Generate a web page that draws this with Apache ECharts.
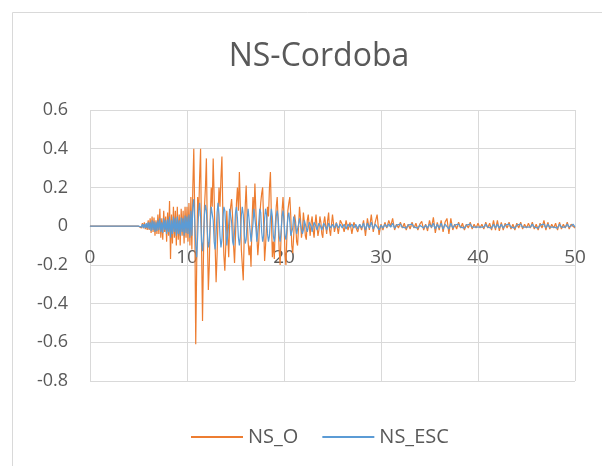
<!DOCTYPE html>
<html>
<head>
<meta charset="utf-8">
<script src="https://cdn.jsdelivr.net/npm/echarts@6/dist/echarts.min.js"></script>
<style>html,body{margin:0;padding:0;background:#fff}#c{width:602px;height:466px}</style>
</head>
<body>
<div id="c"></div>
<script>
// Title and series names
const chartTitle = "NS-Cordoba";
const seriesNames = ["NS_O", "NS_ESC"];
// x ticks / y ticks
const xTicks = [0, 10, 20, 30, 40, 50];
const yTicks = [-0.8, -0.6, -0.4, -0.2, 0, 0.2, 0.4, 0.6];

// Sampling of the read-off values
const startA = 5.0, stepA = 0.1;   // 5.0 .. 24.9 s
const startB = 25.0, stepB = 0.2;  // 25.0 .. 50.0 s

// NS_O (orange) 5.0 - 24.9 s
const nsO_A = [
  0,0,0.005,-0.01,0.015,-0.01,0.02,-0.015,0.01,-0.02,
  0.03,-0.02,0.04,-0.035,0.05,-0.03,0.045,-0.05,0.03,-0.04,
  0.06,-0.04,0.09,-0.06,0.04,-0.07,0.08,-0.03,0.05,-0.08,
  0.07,-0.05,0.13,-0.17,0.06,-0.09,0.1,-0.06,0.08,-0.1,
  0.1,-0.07,0.06,-0.1,0.09,-0.05,0.08,-0.09,0.1,-0.06,
  0.1,-0.08,0.12,-0.1,0.15,-0.12,0.2,0.4,0.05,-0.61,
  -0.2,0.15,0.05,0.25,0.4,-0.1,-0.49,-0.15,0.1,0.2,
  0.35,-0.05,-0.33,-0.2,0.05,0.2,0.1,0.35,0.15,-0.1,
  -0.29,-0.15,0.05,0.2,0.1,0.25,0.36,0.05,-0.15,-0.23,
  -0.1,0.08,-0.05,-0.16,0.02,0.1,0.14,0.05,-0.1,-0.19,
  -0.05,0.12,0.2,0.08,0.28,0.1,-0.12,-0.2,-0.28,-0.05,
  0.1,0.21,0.05,-0.08,-0.15,-0.1,-0.21,0.02,0.15,0.05,
  0.22,0.08,-0.05,-0.15,-0.08,0.05,0.12,0.17,0.2,0.02,
  -0.18,-0.1,0.0,0.1,0.05,0.2,0.28,0.05,-0.16,-0.08,
  -0.17,0.0,0.1,0.15,0.02,-0.12,-0.2,-0.05,0.08,0.15,
  0.05,-0.15,-0.2,-0.05,0.08,0.12,0.15,0.05,-0.1,-0.14,
  -0.05,0.06,0.02,-0.08,-0.1,0.0,0.1,0.04,-0.06,-0.02,
  0.07,0.02,-0.05,-0.07,0.03,0.06,0.0,-0.05,0.02,0.05,
  -0.02,-0.06,0.01,0.06,0.0,-0.05,-0.02,0.05,0.02,-0.04,
  -0.06,0.02,0.05,0.0,-0.04,0.03,0.07,-0.02,-0.05,0.01
];
// NS_O (orange) 25.0 - 50.0 s
const nsO_B = [
  0.06,-0.03,0.02,-0.04,0.03,
  0.01,-0.03,0.03,-0.02,0.02,
  -0.04,0.02,0.03,-0.03,0.01,
  -0.02,0.03,-0.05,0.04,-0.02,
  0.06,-0.03,0.02,0.06,-0.045,
  0.01,-0.02,0.02,-0.01,0.03,
  0.0,0.04,-0.02,0.01,-0.01,
  0.02,-0.01,0.015,-0.02,0.01,
  -0.015,0.02,-0.01,0.015,-0.02,
  0.01,0.025,-0.02,0.01,-0.025,
  0.03,-0.01,0.045,-0.035,0.02,
  -0.02,0.03,-0.03,0.02,0.04,
  -0.04,0.04,-0.02,0.01,-0.015,
  0.02,-0.01,0.015,-0.02,0.01,
  -0.01,0.02,-0.015,0.01,-0.01,
  0.015,-0.01,0.01,-0.015,0.02,
  -0.01,0.015,-0.02,0.03,-0.02,
  0.03,-0.025,0.02,-0.02,0.015,
  -0.01,0.02,-0.015,0.01,-0.02,
  0.015,-0.01,0.02,-0.015,0.01,
  -0.01,0.015,-0.01,0.02,-0.015,
  0.01,-0.02,0.015,-0.01,0.03,
  -0.02,0.02,-0.015,0.01,-0.01,
  0.015,-0.02,0.02,-0.015,0.01,
  -0.01,0.02,-0.015,0.01,0.02,
  -0.01
];
// NS_ESC (blue) 5.0 - 24.9 s
const nsE_A = [
  0,0,0.005,-0.005,0.01,-0.01,0.01,-0.01,0.015,-0.01,
  0.02,-0.015,0.02,-0.025,0.03,-0.02,0.025,-0.03,0.02,-0.025,
  0.03,-0.02,0.04,-0.03,0.02,-0.035,0.04,-0.02,0.03,-0.04,
  0.035,-0.03,0.05,-0.06,0.03,-0.04,0.05,-0.03,0.04,-0.05,
  0.05,-0.04,0.03,-0.05,0.045,-0.03,0.04,-0.05,0.055,-0.035,
  0.05,-0.04,0.06,-0.06,0.08,-0.05,0.1,0.14,0.02,-0.1,
  -0.16,-0.05,0.08,0.12,0.05,-0.08,-0.13,-0.05,0.06,0.11,
  0.08,-0.03,-0.11,-0.08,0.02,0.1,0.11,0.03,-0.08,-0.12,
  -0.04,0.07,0.12,0.06,-0.05,-0.11,-0.07,0.04,0.1,0.08,
  -0.02,-0.1,-0.09,0.01,0.09,0.1,0.02,-0.08,-0.1,-0.03,
  0.07,0.1,0.04,-0.06,-0.1,-0.05,0.05,0.1,0.06,-0.04,
  -0.09,-0.07,0.03,0.09,0.08,-0.02,-0.08,-0.08,0.01,0.09,
  0.08,-0.01,-0.08,-0.07,0.02,0.09,0.07,-0.03,-0.08,-0.05,
  0.04,0.09,0.06,-0.04,-0.08,-0.05,0.04,0.09,0.05,-0.05,
  -0.08,-0.04,0.05,0.08,0.04,-0.05,-0.08,-0.03,0.05,0.08,
  0.03,-0.05,-0.07,-0.02,0.05,0.07,0.02,-0.05,-0.06,-0.01,
  0.05,0.05,0.0,-0.04,-0.04,0.01,0.04,0.03,-0.02,-0.04,
  -0.02,0.03,0.03,-0.01,-0.03,-0.02,0.02,0.03,0.0,-0.03,
  -0.02,0.02,0.025,0.0,-0.02,-0.015,0.015,0.02,-0.005,-0.02,
  -0.01,0.015,0.02,-0.005,-0.02,-0.01,0.015,0.015,-0.01,-0.015
];
// NS_ESC (blue) 25.0 - 50.0 s
const nsE_B = [
  0.01,-0.01,0.015,-0.01,0.01,
  -0.01,0.01,-0.015,0.01,-0.005,
  0.01,-0.01,0.01,-0.015,0.01,
  -0.01,0.015,-0.02,0.015,-0.01,
  0.02,-0.015,0.01,0.02,-0.02,
  0.005,-0.01,0.01,-0.005,0.01,
  -0.005,0.015,-0.01,0.005,-0.005,
  0.01,-0.005,0.005,-0.01,0.005,
  -0.005,0.01,-0.005,0.005,-0.01,
  0.005,0.01,-0.01,0.005,-0.01,
  0.01,-0.005,0.015,-0.015,0.01,
  -0.01,0.015,-0.015,0.01,0.015,
  -0.015,0.015,-0.01,0.005,-0.005,
  0.01,-0.005,0.005,-0.01,0.005,
  -0.005,0.01,-0.005,0.005,-0.005,
  0.005,-0.005,0.005,-0.005,0.01,
  -0.005,0.005,-0.01,0.01,-0.01,
  0.01,-0.01,0.01,-0.01,0.005,
  -0.005,0.01,-0.005,0.005,-0.01,
  0.005,-0.005,0.01,-0.005,0.005,
  -0.005,0.005,-0.005,0.01,-0.005,
  0.005,-0.01,0.005,-0.005,0.01,
  -0.01,0.01,-0.005,0.005,-0.005,
  0.005,-0.01,0.01,-0.005,0.005,
  -0.005,0.01,-0.005,0.005,0.01,
  -0.005
];

function build(a, b) {
  const out = [[0, 0]];
  a.forEach((v, i) => out.push([+(startA + i * stepA).toFixed(2), v]));
  b.forEach((v, i) => out.push([+(startB + i * stepB).toFixed(2), v]));
  return out;
}

const txt = '#595959';
const grid = '#d9d9d9';
const chart = echarts.init(document.getElementById('c'), null, {renderer: 'canvas'});
chart.setOption({
  animation: false,
  backgroundColor: '#fff',
  title: {
    text: chartTitle, left: 314, top: 36, textAlign: 'center',
    textStyle: {fontFamily: 'Open Sans', fontSize: 32, fontWeight: 'normal', color: txt}
  },
  graphic: [{
    type: 'rect', left: 10, top: 10, silent: true,
    shape: {width: 640, height: 500},
    style: {fill: 'none', stroke: grid, lineWidth: 1}
  }],
  legend: {
    data: seriesNames, left: 186, top: 422, itemWidth: 52, itemHeight: 2, itemGap: 24,
    icon: 'rect',
    textStyle: {fontFamily: 'Open Sans', fontSize: 20, color: txt, padding: [0, 0, 0, 0]}
  },
  grid: {left: 90, right: 27, top: 110, bottom: 85},
  xAxis: {
    type: 'value', min: xTicks[0], max: xTicks[xTicks.length - 1], interval: 10,
    axisLine: {show: true, onZero: true, lineStyle: {color: grid, width: 1}},
    axisTick: {show: false},
    splitLine: {show: true, lineStyle: {color: grid, width: 1}},
    axisLabel: {margin: -133, fontFamily: 'Open Sans', fontSize: 19, color: txt}
  },
  yAxis: {
    type: 'value', min: yTicks[0], max: yTicks[yTicks.length - 1], interval: 0.2,
    axisLine: {show: false}, axisTick: {show: false},
    splitLine: {show: true, lineStyle: {color: grid, width: 1}},
    axisLabel: {
      margin: 22, fontFamily: 'Open Sans', fontSize: 18, color: txt,
      formatter: v => { const r = Math.round(v * 10) / 10; return r === 0 ? '0' : r.toFixed(1); }
    }
  },
  series: [
    {name: seriesNames[0], type: 'line', data: build(nsO_A, nsO_B), showSymbol: false,
     lineStyle: {color: '#ED7D31', width: 1.2}, itemStyle: {color: '#ED7D31'}, sampling: null, z: 2},
    {name: seriesNames[1], type: 'line', data: build(nsE_A, nsE_B), showSymbol: false,
     lineStyle: {color: '#5B9BD5', width: 1.2}, itemStyle: {color: '#5B9BD5'}, sampling: null, z: 3}
  ]
});
</script>
</body>
</html>
